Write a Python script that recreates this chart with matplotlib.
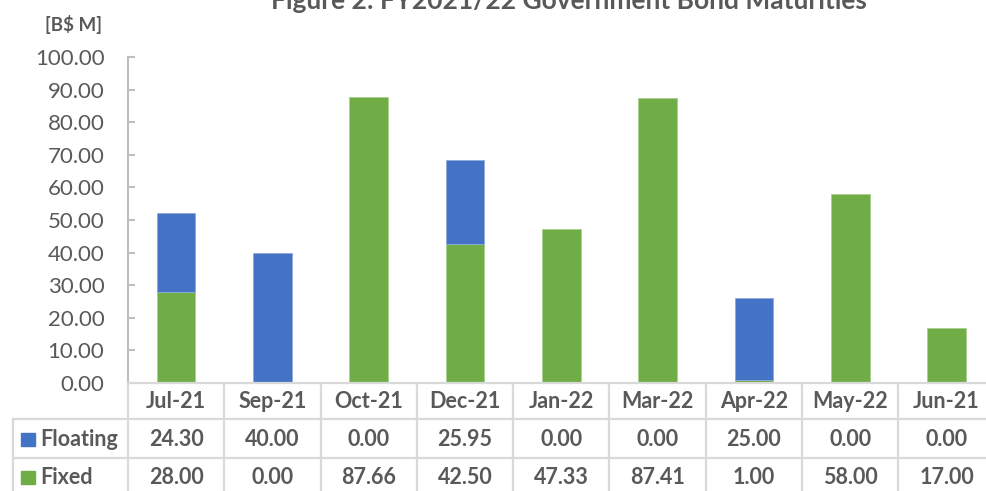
import matplotlib
matplotlib.use("Agg")
import matplotlib.pyplot as plt
from matplotlib import transforms
from matplotlib.lines import Line2D
from matplotlib.patches import Rectangle

months = ["Jul-21", "Sep-21", "Oct-21", "Dec-21", "Jan-22", "Mar-22", "Apr-22", "May-22", "Jun-21"]
floating = [24.30, 40.00, 0.00, 25.95, 0.00, 0.00, 25.00, 0.00, 0.00]
fixed = [28.00, 0.00, 87.66, 42.50, 47.33, 87.41, 1.00, 58.00, 17.00]
series_names = ["Floating", "Fixed"]
title = "Figure 2: FY2021/22 Government Bond Maturities"
unit = "[B$ M]"
yticks = [0, 10, 20, 30, 40, 50, 60, 70, 80, 90, 100]

BLUE = "#4472C4"
GREEN = "#70AD47"
TXT = "#595959"
GRID = "#D9D9D9"
FONT = "Lato"
FS = 15.5

W, H = 987, 491
fig = plt.figure(figsize=(W / 100, H / 100), dpi=100)
plt.rcParams['font.family'] = [FONT, 'DejaVu Sans']

def fx(px):
    return px / W

def fy(py):
    return 1 - py / H

left_px, right_px = 128, 128 + 9 * 96.3
top_px, bot_px = 57, 383
ax = fig.add_axes([fx(left_px), fy(bot_px), fx(right_px - left_px), (bot_px - top_px) / H])
ax.set_xlim(-0.5, len(months) - 0.5)
ax.set_ylim(0, 100)

x = list(range(len(months)))
ax.bar(x, fixed, width=0.40, color=GREEN, edgecolor="#A9D18E",
       linewidth=[0.6 if v > 0 else 0 for v in fixed], zorder=2)
ax.bar(x, floating, width=0.40, bottom=fixed, color=BLUE, edgecolor="#8FAADC",
       linewidth=[0.6 if v > 0 else 0 for v in floating], zorder=2)

for s in ["top", "right", "bottom"]:
    ax.spines[s].set_visible(False)
ax.spines["left"].set_color("#BFBFBF")
ax.spines["left"].set_linewidth(1.5)
ax.set_xticks([])
ax.set_yticks(yticks)
ax.set_yticklabels([f"{v:.2f}" for v in yticks])
ax.tick_params(axis="y", direction="in", length=5, width=1.5, color="#BFBFBF",
               labelsize=16, labelcolor=TXT, pad=17)

# title and unit label
fig.text(fx(569), fy(9), title, ha="center", va="baseline", fontsize=19,
         fontweight="bold", color=TXT)
fig.text(fx(74), fy(25), unit, ha="center", va="center", fontsize=13.5,
         fontweight="bold", color=TXT)

# data table
bt = transforms.blended_transform_factory(ax.transData, fig.transFigure)
row_h = [383, 419, 458, 497]
lw = 1.6
n = len(months)
fig.add_artist(Line2D([fx(left_px), 1.05], [fy(383), fy(383)], color=GRID, lw=lw))
for yy in row_h[1:3]:
    fig.add_artist(Line2D([fx(13), 1.05], [fy(yy), fy(yy)], color=GRID, lw=lw))
for i in range(n + 1):
    xb = i - 0.5
    fig.add_artist(Line2D([xb, xb], [fy(383), fy(497)], color=GRID, lw=lw, transform=bt))
fig.add_artist(Line2D([fx(13), fx(13)], [fy(419), fy(497)], color=GRID, lw=lw))

for i, m in enumerate(months):
    fig.text(i, fy(402), m, transform=bt, ha="center", va="center", fontsize=FS,
             fontweight="bold", color=TXT)
    fig.text(i, fy(439), f"{floating[i]:.2f}", transform=bt, ha="center", va="center",
             fontsize=FS, fontweight="bold", color=TXT)
    fig.text(i, fy(477), f"{fixed[i]:.2f}", transform=bt, ha="center", va="center",
             fontsize=FS, fontweight="bold", color=TXT)

for name, col, yc in [(series_names[0], BLUE, 439), (series_names[1], GREEN, 477)]:
    fig.add_artist(Rectangle((fx(21), fy(yc + 7)), fx(14), 13 / H, color=col,
                             transform=fig.transFigure))
    fig.text(fx(40), fy(yc), name, ha="left", va="center", fontsize=FS,
             fontweight="bold", color=TXT)

fig.savefig("out.png", dpi=100)
